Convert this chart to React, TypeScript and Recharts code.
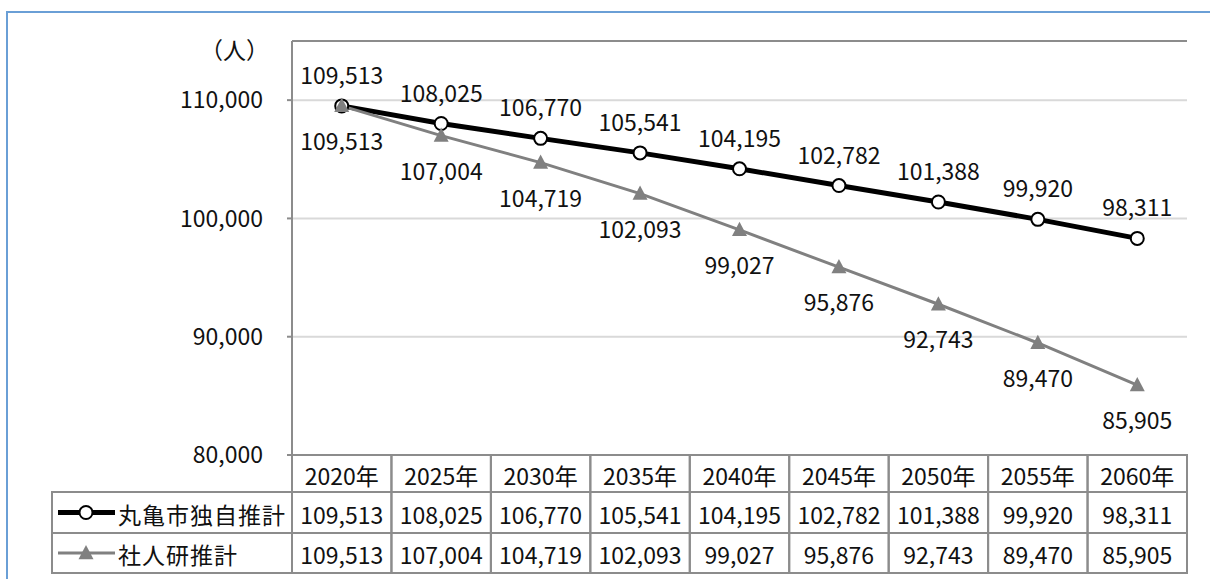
import { LineChart, Line, XAxis, YAxis, CartesianGrid, LabelList, ReferenceLine } from "recharts";

// 将来人口推計（丸亀市独自推計 vs 社人研推計）
const years = ["2020年", "2025年", "2030年", "2035年", "2040年", "2045年", "2050年", "2055年", "2060年"];
const marugame = [109513, 108025, 106770, 105541, 104195, 102782, 101388, 99920, 98311];
const ipss = [109513, 107004, 104719, 102093, 99027, 95876, 92743, 89470, 85905];
const seriesNames = ["丸亀市独自推計", "社人研推計"];
const yTicks = [80000, 90000, 100000, 110000];
const yMax = 115000;
const unitLabel = "（人）";

const data = years.map((year, i) => ({ year, marugame: marugame[i], ipss: ipss[i] }));

const W = 1210;
const H = 579;
const PLOT_LEFT = 292;
const PLOT_RIGHT = 1187;
const PLOT_TOP = 41;
const PLOT_BOTTOM = 455;
const BAND = (PLOT_RIGHT - PLOT_LEFT) / years.length;
const ROW_Y = [455, 492, 533, 573];
const TABLE_LEFT = 52;
const BORDER = "#8c8c8c";
const GRAY = "#808080";
const FONT = '"Noto Sans CJK JP", "Noto Sans", sans-serif';
const FS = 23;

const fmt = (v: number) => v.toLocaleString("en-US");

const Triangle = ({ cx, cy, size = 15, fill = GRAY }: any) => {
  if (cx == null || cy == null) return null;
  const h = size * 0.95;
  return (
    <polygon
      points={`${cx},${cy - h / 2 - 1} ${cx - size / 2},${cy + h / 2 - 1} ${cx + size / 2},${cy + h / 2 - 1}`}
      fill={fill}
    />
  );
};

const txt = { fontFamily: FONT, fontSize: FS, fill: "#111" };

function TableTick({ x, index }: any) {
  const left = x - BAND / 2;
  const cells = [years[index], fmt(marugame[index]), fmt(ipss[index])];
  return (
    <g>
      {cells.map((t, r) => (
        <g key={r}>
          <rect x={left} y={ROW_Y[r]} width={BAND} height={ROW_Y[r + 1] - ROW_Y[r]} fill="none" stroke={BORDER} strokeWidth={2} />
          <text x={x} y={(ROW_Y[r] + ROW_Y[r + 1]) / 2 + 1} textAnchor="middle" dominantBaseline="central" style={txt}>
            {t}
          </text>
        </g>
      ))}
      {index === 0 && (
        <g>
          {[1, 2].map((r) => {
            const cy = (ROW_Y[r] + ROW_Y[r + 1]) / 2;
            return (
              <g key={r}>
                <rect x={TABLE_LEFT} y={ROW_Y[r]} width={PLOT_LEFT - TABLE_LEFT} height={ROW_Y[r + 1] - ROW_Y[r]} fill="none" stroke={BORDER} strokeWidth={2} />
                {r === 1 ? (
                  <g>
                    <line x1={58} x2={115} y1={cy} y2={cy} stroke="#000" strokeWidth={5} />
                    <circle cx={86} cy={cy} r={6.5} fill="#fff" stroke="#000" strokeWidth={2} />
                  </g>
                ) : (
                  <g>
                    <line x1={58} x2={115} y1={cy} y2={cy} stroke={GRAY} strokeWidth={3} />
                    <Triangle cx={86} cy={cy} />
                  </g>
                )}
                <text x={118} y={cy + 1} dominantBaseline="central" style={{ ...txt, letterSpacing: 1 }}>
                  {seriesNames[r - 1]}
                </text>
              </g>
            );
          })}
        </g>
      )}
    </g>
  );
}

const AboveLabel = ({ x, y, value }: any) => (
  <text x={x} y={y - 32} textAnchor="middle" dominantBaseline="central" style={txt}>
    {fmt(value)}
  </text>
);

const BelowLabel = ({ x, y, value }: any) => (
  <text x={x} y={y + 34} textAnchor="middle" dominantBaseline="central" style={txt}>
    {fmt(value)}
  </text>
);

export default function App() {
  return (
    <div style={{ position: "absolute", left: 0, top: 0, width: W, height: H, overflow: "hidden", background: "#fff" }}>
      <div
        style={{
          position: "absolute",
          left: 6,
          top: 11,
          width: 1300,
          height: 700,
          border: "2px solid #6a9fd6",
        }}
      />
      <div style={{ position: "absolute", left: 200, top: 34, fontFamily: FONT, fontSize: FS, color: "#111", lineHeight: "30px" }}>
        {unitLabel}
      </div>
      <div style={{ position: "absolute", left: 0, top: 0 }}>
        <LineChart width={W} height={H} data={data} margin={{ top: PLOT_TOP, right: W - PLOT_RIGHT, left: 0, bottom: 0 }}>
          <CartesianGrid horizontal vertical={false} stroke="#d9d9d9" strokeWidth={2} />
          <ReferenceLine y={yMax} stroke={BORDER} strokeWidth={2} ifOverflow="visible" />
          <XAxis
            dataKey="year"
            interval={0}
            height={H - PLOT_BOTTOM}
            padding={{ left: BAND / 2, right: BAND / 2 }}
            tickLine={false}
            axisLine={false}
            tick={(props: any) => <TableTick {...props} />}
          />
          <YAxis
            domain={[80000, yMax]}
            ticks={yTicks}
            width={PLOT_LEFT}
            tickFormatter={fmt}
            tickSize={5}
            tickMargin={24}
            axisLine={{ stroke: BORDER, strokeWidth: 2 }}
            tickLine={{ stroke: BORDER, strokeWidth: 2 }}
            tick={{ fontFamily: FONT, fontSize: FS, fill: "#111" }}
          />
          <YAxis
            yAxisId="frame"
            orientation="right"
            domain={[80000, yMax]}
            width={0}
            tick={false}
            tickLine={false}
            axisLine={{ stroke: BORDER, strokeWidth: 2 }}
          />
          <Line
            dataKey="marugame"
            stroke="#000"
            strokeWidth={5}
            dot={{ r: 6.5, fill: "#fff", stroke: "#000", strokeWidth: 2 }}
            isAnimationActive={false}
          >
            <LabelList dataKey="marugame" content={AboveLabel} />
          </Line>
          <Line
            dataKey="ipss"
            stroke={GRAY}
            strokeWidth={3}
            dot={(p: any) => <Triangle key={p.index} cx={p.cx} cy={p.cy} />}
            isAnimationActive={false}
          >
            <LabelList dataKey="ipss" content={BelowLabel} />
          </Line>
        </LineChart>
      </div>
    </div>
  );
}
